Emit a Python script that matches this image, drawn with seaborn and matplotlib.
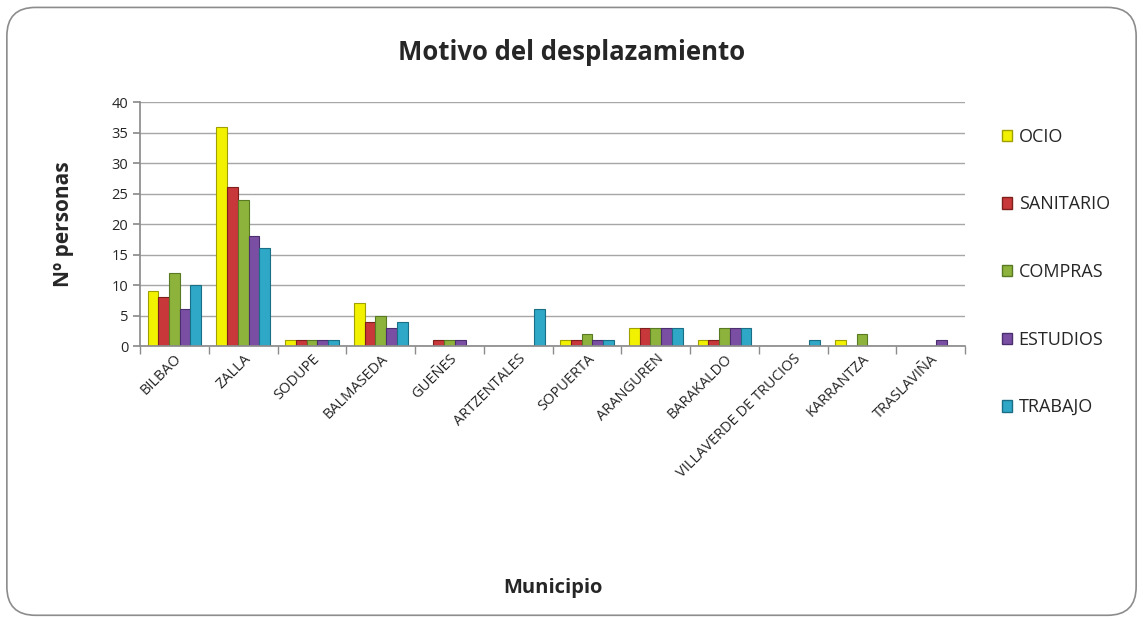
import pandas as pd
import matplotlib.pyplot as plt
import seaborn as sns
from matplotlib.patches import FancyBboxPatch, Patch

# ========== DATA ==========
municipios = ["BILBAO", "ZALLA", "SODUPE", "BALMASEDA", "GUEÑES", "ARTZENTALES",
              "SOPUERTA", "ARANGUREN", "BARAKALDO", "VILLAVERDE DE TRUCIOS",
              "KARRANTZA", "TRASLAVIÑA"]
motivos = ["OCIO", "SANITARIO", "COMPRAS", "ESTUDIOS", "TRABAJO"]

ocio      = [9, 36, 1, 7, 0, 0, 1, 3, 1, 0, 1, 0]
sanitario = [8, 26, 1, 4, 1, 0, 1, 3, 1, 0, 0, 0]
compras   = [12, 24, 1, 5, 1, 0, 2, 3, 3, 0, 2, 0]
estudios  = [6, 18, 1, 3, 1, 0, 1, 3, 3, 0, 0, 1]
trabajo   = [10, 16, 1, 4, 0, 6, 1, 3, 3, 1, 0, 0]

colors = ["#F2F200", "#C8373A", "#8DB33C", "#7A4FA3", "#2EA8C6"]
edges  = ["#A0A000", "#7E1F1C", "#587A22", "#4A2E6E", "#1A6E85"]

rows = []
for m, vals in zip(motivos, [ocio, sanitario, compras, estudios, trabajo]):
    for mun, v in zip(municipios, vals):
        rows.append({"Municipio": mun, "Motivo": m, "Personas": v})
df = pd.DataFrame(rows)

# ========== PLOT ==========
sns.set_theme(style="white")
plt.rcParams['font.family'] = ['Open Sans', 'DejaVu Sans']

fig = plt.figure(figsize=(11.43, 6.19), dpi=100)
ax = fig.add_axes([0.1225, 0.441, 0.722, 0.394])

sns.barplot(data=df, x="Municipio", y="Personas", hue="Motivo",
            hue_order=motivos, order=municipios, palette=colors,
            saturation=1, width=0.78, ax=ax, legend=False)

# darker outlines per series
for cont, ec in zip(ax.containers, edges):
    for bar in cont:
        bar.set_edgecolor(ec)
        bar.set_linewidth(0.8)

ax.set_ylim(0, 40)
ax.set_yticks(range(0, 41, 5))
ax.set_xlim(-0.5, len(municipios) - 0.5)
ax.yaxis.grid(True, color="#A6A6A6", linewidth=1)
ax.set_axisbelow(True)
for s in ["top", "right"]:
    ax.spines[s].set_visible(False)
ax.spines["left"].set_color("#8C8C8C")
ax.spines["bottom"].set_color("#8C8C8C")

# category separator ticks
ax.set_xticks([i - 0.5 for i in range(len(municipios) + 1)], minor=True)
ax.tick_params(axis="x", which="minor", length=6, color="#8C8C8C", bottom=True)
ax.tick_params(axis="x", which="major", length=0, labelsize=10.5, pad=4)
ax.tick_params(axis="y", length=5, color="#8C8C8C", left=True, labelsize=10.5)
plt.setp(ax.get_xticklabels(), rotation=45, ha="right", rotation_mode="anchor")

ax.set_xlabel("Municipio", fontsize=14.5, fontweight="bold")
ax.xaxis.set_label_coords(0.5, -0.95)
ax.set_ylabel("Nº personas", fontsize=15, fontweight="bold")
ax.yaxis.set_label_coords(-0.08, 0.5)
fig.text(0.5, 0.915, "Motivo del desplazamiento", ha="center", va="center",
         fontsize=18.5, fontweight="bold")

handles = [Patch(facecolor=c, edgecolor=e) for c, e in zip(colors, edges)]
fig.legend(handles, motivos, loc="upper left", bbox_to_anchor=(0.862, 0.82),
           frameon=False, fontsize=13, handlelength=0.6, handleheight=0.6,
           handletextpad=0.35, labelspacing=2.75)

# rounded frame
frame = FancyBboxPatch((0.006, 0.006), 0.988, 0.982,
                       boxstyle="round,pad=0,rounding_size=0.025",
                       transform=fig.transFigure, facecolor="none",
                       edgecolor="#8C8C8C", linewidth=1.2, mutation_aspect=1143 / 619)
fig.patches.append(frame)

fig.savefig("out.png", dpi=100)
